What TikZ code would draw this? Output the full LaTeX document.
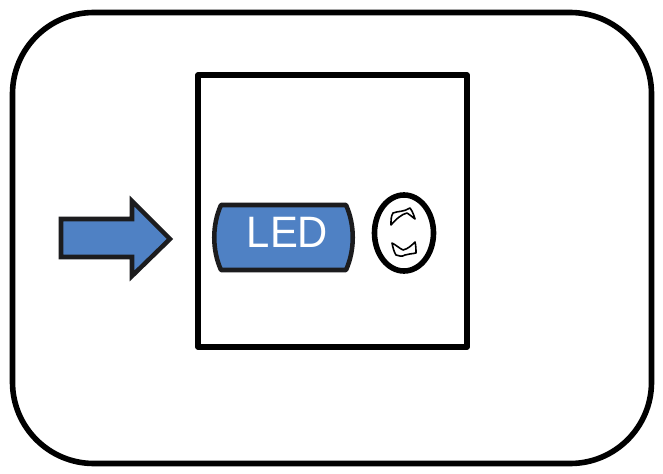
\documentclass[tikz,border=0pt]{standalone}
\usepackage{fontspec}
\setmainfont{Liberation Sans}
\definecolor{bluefill}{HTML}{4F81C4}
\definecolor{darkline}{HTML}{1C1C1E}
\tikzset{
  frameline/.style={draw=black,line width=4.2pt,line join=round},
  shapeline/.style={draw=darkline,fill=bluefill,line width=3.4pt,line join=miter},
  toothline/.style={draw=black,line width=1.2pt,fill=white,line join=round}
}
\begin{document}
\begin{tikzpicture}[x=0.75pt,y=-0.75pt]
\useasboundingbox (0,0) rectangle (663,474);
\fill[white] (0,0) rectangle (663,474);
% outer rounded frame
\draw[frameline,rounded corners=61pt] (12.5,12.5) rectangle (651.5,463.5);
% inner square
\draw[frameline] (198,75) rectangle (467,347);
% arrow
\draw[shapeline] (61,219) -- (132,219) -- (132,201) -- (170,239) -- (132,276) -- (132,257) -- (61,257) -- cycle;
% LED shape
\draw[shapeline,line join=round] (221,205) -- (346,205)
  .. controls (355,225) and (355,250) .. (346,270) -- (221,270)
  .. controls (212,250) and (212,225) .. (221,205) -- cycle;
\node[text=white,font=\fontsize{33}{33}\selectfont,inner sep=0pt,anchor=center] (led) at (287.5,232.5) {\scalebox{0.95}[1]{LED}};
% eye ellipse
\draw[draw=black,line width=4.2pt,fill=white] (404,233) ellipse [x radius=29.5,y radius=38];
% teeth
\draw[toothline] (391,225) .. controls (391,220) and (391,216) .. (393,213)
  .. controls (398,211) and (404,212) .. (410,208)
  .. controls (413,212) and (414,216) .. (415,219)
  .. controls (411,216) and (409,214) .. (407,213)
  .. controls (402,214) and (396,219) .. (391,225) -- cycle;
\draw[toothline] (392,243) .. controls (396,245) and (399,248) .. (403,250)
  .. controls (408,249) and (412,245) .. (415,242)
  .. controls (416,246) and (416,250) .. (416,253)
  .. controls (411,254) and (408,254) .. (405,255)
  .. controls (402,257) and (399,256) .. (396,255)
  .. controls (394,252) and (393,248) .. (392,243) -- cycle;
\end{tikzpicture}
\end{document}
